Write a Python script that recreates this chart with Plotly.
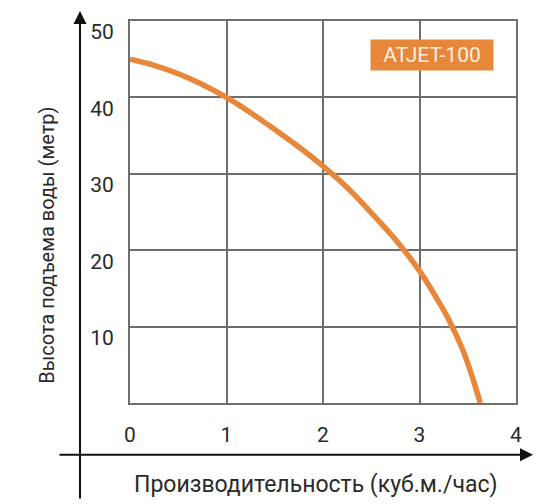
import plotly.graph_objects as go

# Кривая напора насоса ATJET-100
flow = [0, 0.25, 0.5, 0.75, 1.0, 1.25, 1.5, 1.75, 2.0, 2.25, 2.5, 2.75, 3.0, 3.15, 3.3, 3.45, 3.55, 3.63]
head = [45, 44.2, 43.1, 41.7, 40.0, 38.0, 35.8, 33.5, 31.0, 28.2, 24.9, 21.4, 17.3, 14.3, 11.0, 6.9, 3.3, 0]

x_ticks = [0, 1, 2, 3, 4]
y_ticks = [10, 20, 30, 40, 50]

# страница имеет отступ body 8px, поэтому фигура чуть меньше окна
OFF = 8
W, H = 552, 496
L, R, T, B = 122, 44, 11, 101
PW, PH = W - L - R, H - T - B

ORANGE = "#e8873a"
GRID = "#6e6e6e"
FONT = "Roboto, sans-serif"


def px_to_paper(px, py):
    # координаты в пикселях окна -> paper
    return (px - OFF - L) / PW, (H - B - (py - OFF)) / PH


fig = go.Figure()
fig.add_trace(go.Scatter(
    x=flow, y=head, mode="lines",
    line=dict(color=ORANGE, width=5.5, shape="spline", smoothing=1.0),
    hoverinfo="skip", showlegend=False,
))

axis_common = dict(
    showgrid=True, gridcolor=GRID, gridwidth=2,
    showline=True, linecolor=GRID, linewidth=2, mirror=True,
    zeroline=False, ticks="",
    tickfont=dict(family=FONT, size=21, color="#2a2a2a"),
)
fig.update_xaxes(range=[0, 4], tickvals=x_ticks, ticklabelstandoff=12, **axis_common)
# подписи по Y в оригинале сдвинуты немного ниже линий сетки
fig.update_yaxes(range=[0, 50], tickvals=y_ticks, ticklabelstandoff=10,
                 ticklabelshift=11, **axis_common)

# оси со стрелками
vx, vy = px_to_paper(80, 9)
hx, hy = px_to_paper(533, 455)
fig.add_annotation(x=vx, y=vy, xref="paper", yref="paper", ax=0, ay=489,
                   showarrow=True, arrowhead=2, arrowsize=1.3, arrowwidth=2,
                   arrowcolor="#111", text="")
fig.add_annotation(x=hx, y=hy, xref="paper", yref="paper", ax=-475, ay=0,
                   showarrow=True, arrowhead=2, arrowsize=1.3, arrowwidth=2,
                   arrowcolor="#111", text="")

# подписи осей
tx, ty = px_to_paper(316, 485)
fig.add_annotation(x=tx, y=ty, xref="paper", yref="paper", showarrow=False,
                   xanchor="center", yanchor="middle",
                   text="Производительность (куб.м./час)",
                   font=dict(family=FONT, size=23, color="#2a2a2a"))
yx, yy = px_to_paper(47, 245)
fig.add_annotation(x=yx, y=yy, xref="paper", yref="paper", showarrow=False,
                   xanchor="center", yanchor="middle",
                   text="Высота подъема воды (метр)", textangle=-90,
                   font=dict(family=FONT, size=20, color="#2a2a2a"))

# метка модели
lx, ly = px_to_paper(432, 53)
fig.add_annotation(x=lx, y=ly, xref="paper", yref="paper", showarrow=False,
                   xanchor="center", yanchor="middle", width=114, height=22,
                   text="ATJET-100", bgcolor=ORANGE, borderpad=4,
                   font=dict(family=FONT, size=21, color="#fdf1e6"))

fig.update_layout(
    width=W, height=H,
    margin=dict(l=L, r=R, t=T, b=B),
    paper_bgcolor="white", plot_bgcolor="white",
)

fig.write_html("out.html")
